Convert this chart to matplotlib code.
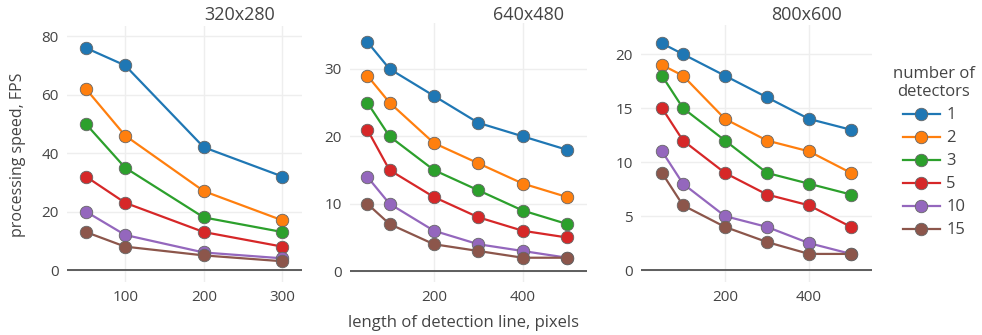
import matplotlib
matplotlib.use("Agg")
import matplotlib.pyplot as plt

plt.rcParams['font.family'] = ['Open Sans', 'DejaVu Sans']

# data
detectors = ["1", "2", "3", "5", "10", "15"]
colors = ["#1f77b4", "#ff7f0e", "#2ca02c", "#d62728", "#9467bd", "#8c564b"]

x_320 = [50, 100, 200, 300]
fps_320 = [
    [76, 70, 42, 32],
    [62, 46, 27, 17],
    [50, 35, 18, 13],
    [32, 23, 13, 8],
    [20, 12, 6, 4],
    [13, 8, 5, 3],
]

x_640 = [50, 100, 200, 300, 400, 500]
fps_640 = [
    [34, 30, 26, 22, 20, 18],
    [29, 25, 19, 16, 13, 11],
    [25, 20, 15, 12, 9, 7],
    [21, 15, 11, 8, 6, 5],
    [14, 10, 6, 4, 3, 2],
    [10, 7, 4, 3, 2, 2],
]

x_800 = [50, 100, 200, 300, 400, 500]
fps_800 = [
    [21, 20, 18, 16, 14, 13],
    [19, 18, 14, 12, 11, 9],
    [18, 15, 12, 9, 8, 7],
    [15, 12, 9, 7, 6, 4],
    [11, 8, 5, 4, 2.5, 1.5],
    [9, 6, 4, 2.6, 1.5, 1.5],
]

W, H = 982, 335
fig = plt.figure(figsize=(W / 100, H / 100), dpi=100)

def px_axes(left, top, right, bottom):
    return fig.add_axes([left / W, 1 - bottom / H, (right - left) / W, (bottom - top) / H])

panels = [
    # (axes box px, x, data, xlim, ylim, xticks, yticks, title, title x)
    ((67, 26, 302, 282), x_320, fps_320, (26, 325), (-4.1, 83.5), [100, 200, 300], [0, 20, 40, 60, 80], "320x280", 240),
    ((350, 23, 587, 282), x_640, fps_640, (11, 545), (-1.6, 36.8), [200, 400], [0, 10, 20, 30], "640x480", 529),
    ((641, 25, 872, 282), x_800, fps_800, (0, 550), (-1.1, 22.7), [200, 400], [0, 5, 10, 15, 20], "800x600", 807),
]

txt_col = "#444444"
lines = []
for box, xs, data, xlim, ylim, xt, yt, title, tx in panels:
    ax = px_axes(*box)
    for spine in ax.spines.values():
        spine.set_visible(False)
    ax.set_xlim(*xlim)
    ax.set_ylim(*ylim)
    ax.set_xticks(xt)
    ax.set_yticks(yt)
    ax.grid(True, color="#eeeeee", linewidth=1)
    ax.set_axisbelow(True)
    ax.axhline(0, color="#444444", linewidth=1.2, zorder=1)
    ax.tick_params(length=0, labelsize=11, labelcolor=txt_col, pad=6)
    lines = []
    for vals, c, lab in zip(data, colors, detectors):
        ln, = ax.plot(xs, vals, color=c, linewidth=1.6, marker="o", markersize=9,
                      markerfacecolor=c, markeredgecolor="#666666", markeredgewidth=0.6,
                      label=lab, zorder=3)
        lines.append(ln)
    fig.text(tx / W, 1 - 15 / H, title, ha="center", va="center", fontsize=13, color=txt_col)

fig.text(18 / W, 1 - 155 / H, "processing speed, FPS", rotation=90, ha="center", va="center",
         fontsize=11.5, color=txt_col)
fig.text(463 / W, 1 - 323 / H, "length of detection line, pixels", ha="center", va="center",
         fontsize=12, color=txt_col)

leg = fig.legend(handles=lines, title="number of\ndetectors", loc="upper center",
                 bbox_to_anchor=(934 / W, 1 - 66 / H), frameon=False, fontsize=12,
                 title_fontsize=12, handlelength=2.2, labelspacing=0.42, handletextpad=0.4,
                 borderpad=0, borderaxespad=0)
leg.get_title().set_color(txt_col)
leg.get_title().set_multialignment("center")
leg._legend_box.align = "center"
for t in leg.get_texts():
    t.set_color(txt_col)

fig.savefig("out.png", dpi=100)
